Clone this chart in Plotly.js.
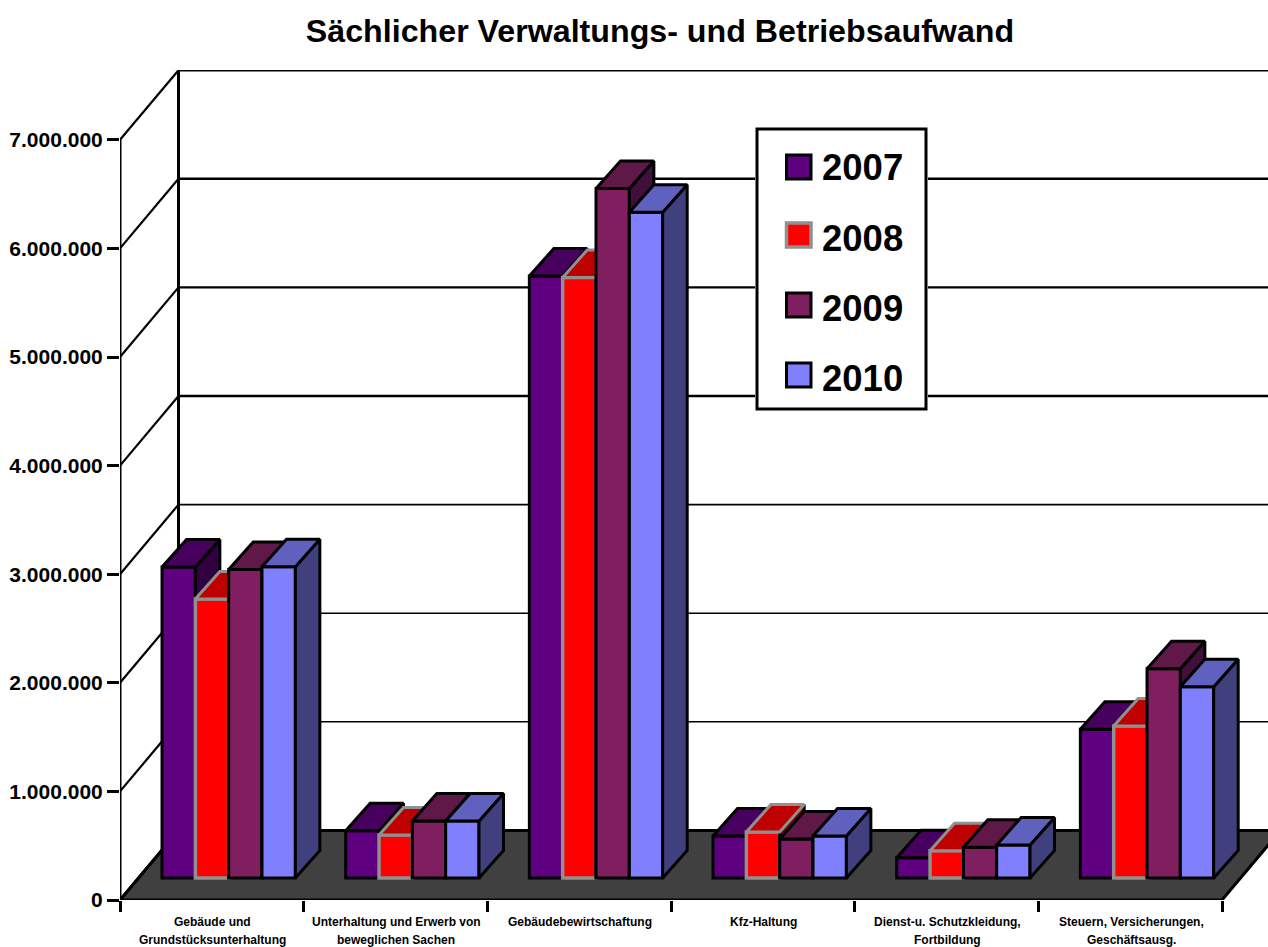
<!DOCTYPE html>
<html><head><meta charset="utf-8">
<script src="https://cdn.plot.ly/plotly-3.0.1.min.js"></script>
<style>html,body{margin:0;padding:0;background:#fff}</style></head>
<body><div id="chart" style="width:1268px;height:947px"></div>
<script>
const years = ['2007','2008','2009','2010'];
const labelLine1 = ['Gebäude und','Unterhaltung und Erwerb von','Gebäudebewirtschaftung','Kfz-Haltung','Dienst-u. Schutzkleidung,','Steuern, Versicherungen,'];
const labelLine2 = ['Grundstücksunterhaltung','beweglichen Sachen','','','Fortbildung','Geschäftsausg.'];
const v2007 = [2864000, 435000, 5543000, 387000, 187000, 1370000];
const v2008 = [2570000, 396000, 5530000, 424000, 250000, 1400000];
const v2009 = [2840000, 525000, 6350000, 360000, 283000, 1927000];
const v2010 = [2865000, 525000, 6130000, 387000, 304000, 1762000];
const series = [v2007, v2008, v2009, v2010];
const yTicks = [0,1000000,2000000,3000000,4000000,5000000,6000000,7000000];
const yTickText = ['0','1.000.000','2.000.000','3.000.000','4.000.000','5.000.000','6.000.000','7.000.000'];
const frontCol = ['#5F0080','#FF0000','#7F1F5F','#8080FF'];
const topCol = ['#48005F','#BF0000','#5F1848','#6060BF'];
const sideCol = ['#30003F','#800000','#40103A','#40407F'];
const edgeCol = ['#000000','#909090','#000000','#000000'];

const catPx = 183.67, valPx = 108.6/1e6;
const L = 120, T = 70, B = 47, W = 1268, H = 947, pw = W-L, ph = H-T-B;
const xr = pw/catPx, yr = ph/valPx;
const wallDx = 58.5/catPx, wallDy = 69.6/valPx;
const gOff = 0.2287, bw = 0.1815, bDx = 24.5/catPx, bDy = 27.5/valPx, bBase = 22/valPx;
const px = x => (x-L)/pw, py = y => (H-B-y)/ph;

const traces = [];
const skip = {cliponaxis:false,hoverinfo:'skip',showlegend:false,zorder:0,type:'scatter',mode:'lines'};
// floor
traces.push({...skip,x:[0,6,6+wallDx,wallDx,0],y:[0,0,wallDy,wallDy,0],fill:'toself',fillcolor:'#404040',line:{color:'#000',width:3}});
// gridlines on the back wall, diagonals on the side wall
const upper=[[],[]], lower=[[],[]], diag=[[],[]];
yTicks.forEach(v=>{
  if(v===0) return;
  const g = v>=4000000 ? upper : lower;
  g[0].push(wallDx,6+wallDx,null); g[1].push(v+wallDy,v+wallDy,null);
  diag[0].push(0,wallDx,null); diag[1].push(v,v+wallDy,null);
});
traces.push({...skip,x:upper[0],y:upper[1],line:{color:'#000',width:2.4}});
traces.push({...skip,x:lower[0],y:lower[1],line:{color:'#000',width:1.6}});
traces.push({...skip,x:diag[0],y:diag[1],line:{color:'#000',width:2.2}});
traces.push({...skip,x:[0,0,null,wallDx,wallDx,null,0,wallDx],y:[0,7e6,null,wallDy,7e6+wallDy,null,0,wallDy],line:{color:'#000',width:3}});

series.forEach((vals,k)=>{
  const z = k+1, tx=[],ty=[],sx=[],sy=[],cx=[];
  vals.forEach((v,i)=>{
    const a = i+gOff+k*bw, b = a+bw, t = v+bBase;
    cx.push(a+bw/2);
    tx.push(a,b,b+bDx,a+bDx,a,null); ty.push(t,t,t+bDy,t+bDy,t,null);
    sx.push(b,b+bDx,b+bDx,b,b,null); sy.push(bBase,bBase+bDy,t+bDy,t,bBase,null);
  });
  traces.push({type:'scatter',mode:'lines',x:sx,y:sy,fill:'toself',fillcolor:sideCol[k],line:{color:'#000',width:3},cliponaxis:false,hoverinfo:'skip',showlegend:false,zorder:z,name:years[k]+' side'});
  traces.push({type:'scatter',mode:'lines',x:tx,y:ty,fill:'toself',fillcolor:topCol[k],line:{color:edgeCol[k],width:3},cliponaxis:false,hoverinfo:'skip',showlegend:false,zorder:z,name:years[k]+' top'});
  traces.push({type:'bar',x:cx,y:vals,base:bBase,width:bw,name:years[k],marker:{color:frontCol[k],line:{color:edgeCol[k],width:k==1?3.5:3}},cliponaxis:false,showlegend:false,zorder:z});
});

const font = (s)=>({family:'"Liberation Sans", Arial, sans-serif',size:s,color:'#000',weight:700});
const annotations = [];
labelLine1.forEach((t,i)=>{
  annotations.push({xref:'x',yref:'paper',x:i+0.505,y:py(922),text:t,showarrow:false,font:font(12),xanchor:'center',yanchor:'middle'});
  if(labelLine2[i]) annotations.push({xref:'x',yref:'paper',x:i+0.505,y:py(940),text:labelLine2[i],showarrow:false,font:font(12),xanchor:'center',yanchor:'middle'});
});
const shapes = [
 {type:'rect',xref:'paper',yref:'paper',x0:px(755),x1:px(928),y0:py(127),y1:py(411),fillcolor:'#fff',line:{width:0},layer:'above'},
 {type:'rect',xref:'paper',yref:'paper',x0:px(757),x1:px(926),y0:py(129),y1:py(409),fillcolor:'#fff',line:{color:'#000',width:3},layer:'above'}
];
const swTop = [155,223,293,363], txtY = [167,239,308,378];
years.forEach((y,k)=>{
  shapes.push({type:'rect',xref:'paper',yref:'paper',x0:px(786.5),x1:px(811),y0:py(swTop[k]),y1:py(swTop[k]+24),fillcolor:frontCol[k],line:{color:edgeCol[k],width:k==1?3.5:3},layer:'above'});
  annotations.push({xref:'paper',yref:'paper',x:px(819.5),y:py(txtY[k]),text:y,showarrow:false,font:font(36.5),xanchor:'left',yanchor:'middle'});
});

const layout = {
  width:W,height:H,margin:{l:L,r:0,t:T,b:B,pad:0},
  paper_bgcolor:'#fff',plot_bgcolor:'#fff',barmode:'overlay',showlegend:false,
  title:{text:'Sächlicher Verwaltungs- und Betriebsaufwand',font:font(32.2),x:660/W,xanchor:'center',y:1-31/H,yanchor:'middle'},
  xaxis:{range:[0,xr],showgrid:false,zeroline:false,showline:false,showticklabels:false,ticks:'',
    minor:{tickmode:'array',tickvals:[0,1,2,3,4,5,6],ticks:'outside',ticklen:11,tickwidth:2.5,tickcolor:'#000',showgrid:false}},
  yaxis:{range:[0,yr],showgrid:false,zeroline:false,showline:false,tickmode:'array',tickvals:yTicks,ticktext:yTickText,ticks:'outside',ticklen:12,tickwidth:2.5,tickcolor:'#000',tickfont:font(21)},
  shapes,annotations
};
Plotly.newPlot('chart',traces,layout,{displayModeBar:false,responsive:false});
</script></body></html>
